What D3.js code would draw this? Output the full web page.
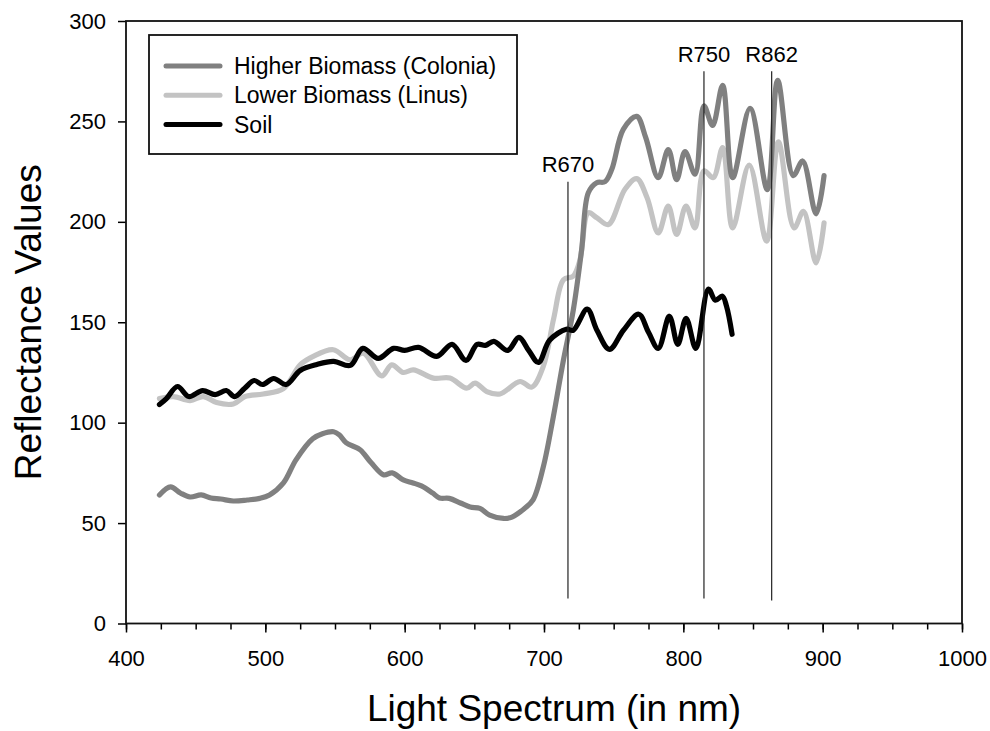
<!DOCTYPE html>
<html>
<head>
<meta charset="utf-8">
<script src="https://cdn.jsdelivr.net/npm/d3@7"></script>
<style>
  body { margin: 0; background: #fff; }
  svg text { font-family: "Liberation Sans", Arial, sans-serif; fill: #000; }
</style>
</head>
<body>
<div id="chart"></div>
<script>
// wavelength (nm) / reflectance pairs
var colonia = [
  [424, 64], [432, 68], [439, 65], [446, 63], [454, 64], [461, 62.5], [468, 62], [477, 61],
  [487, 61.5], [496, 62.3], [503, 64], [513, 70], [522, 81.5], [534, 92], [541, 94.5], [549, 95.5],
  [553, 94], [558, 90], [568, 86.5], [576, 80], [585, 74], [591, 75], [599, 71.5], [606, 70],
  [612, 68.5], [620, 65], [625, 62.5], [632, 62.3], [640, 60], [647, 58], [654, 57.3], [661, 54],
  [671, 52.3], [677, 53], [686, 57.3], [692, 61.4], [699.5, 78], [706.7, 103], [713.9, 131],
  [721, 156], [727, 186], [731.8, 214.5], [737.8, 219.5], [743.8, 220], [748.6, 226], [756.9, 246],
  [766.5, 252.5], [773, 242], [782, 222], [789.2, 236], [795.2, 221], [801.2, 235], [808.4, 223.7],
  [814.8, 257.8], [821, 248], [828.2, 268], [835.4, 222], [847.9, 256.5], [860.3, 216],
  [867.7, 270.5], [878.9, 223], [885.6, 230.3], [895.3, 204], [901, 223]
];

var linus = [
  [424, 112], [434, 113], [446, 111], [455.5, 113], [465, 110], [477, 109.3], [485.4, 113],
  [498.5, 114.3], [513, 117], [525, 128.8], [534.4, 133], [548.8, 136.3], [560.8, 131.3],
  [570.3, 134.6], [583.5, 123.3], [590.7, 128.8], [599, 125], [606.2, 126.3], [620.6, 122.2],
  [632.5, 122.2], [644.5, 117.2], [650.5, 119.7], [658.9, 115.5], [668.4, 114.3], [682.8, 120.5],
  [691.2, 117.7], [699.5, 128], [707, 152], [714, 171.2], [721, 173], [725.8, 181], [731.8, 204.5],
  [738, 202], [746.2, 198.7], [758.1, 216.2], [766.5, 221.5], [774, 212], [782, 194.5],
  [789.2, 207.8], [795.2, 193.7], [801.9, 207.8], [808.4, 197], [814.8, 225.4], [821.5, 222],
  [828.2, 237], [835.4, 197], [847.3, 228.2], [859.8, 190.4], [868.2, 239.8], [879.5, 197],
  [886.2, 205.2], [895.3, 179.6], [901, 199.5]
];

var soil = [
  [424, 109], [429, 112], [437, 118], [445, 113], [455, 116], [464, 114], [472, 116], [478, 113],
  [485, 117], [492, 121], [498, 119], [506, 122], [515, 119], [525, 126], [537, 129], [549, 130.5],
  [561, 128.5], [570, 137], [581, 132], [592, 137], [600, 136], [610, 137.5], [623, 133],
  [634, 139], [644, 131], [652, 139], [658, 138.5], [664, 140.5], [674, 136], [682, 142.5],
  [689, 136], [696, 130], [704, 141], [716, 146.5], [721, 146], [731, 156.5], [738, 146],
  [747, 136.5], [757, 146], [768, 154], [775, 145], [782, 137], [790, 153], [796, 139],
  [802, 152], [809, 137], [818, 166.5], [823, 161], [828, 163], [831, 158], [835, 144]
];

var seriesNames = ["Higher Biomass (Colonia)", "Lower Biomass (Linus)", "Soil"];
var seriesColors = ["#808080", "#c3c3c3", "#000000"];

// marker lines: label, position on x axis, value range
var markerLabels = ["R670", "R750", "R862"];
var markerX = [717.2, 814.8, 863.4];
var markerTop = [220, 275, 275];
var markerBottom = [12.5, 12.5, 11.5];

var xMajor = [400, 500, 600, 700, 800, 900, 1000];
var yTicks = [0, 50, 100, 150, 200, 250, 300];

var W = 990, H = 731;
var plotL = 126, plotR = 962, plotT = 21, plotB = 623.5;

var svg = d3.select("#chart").append("svg")
    .attr("width", W)
    .attr("height", H);

var x = d3.scaleLinear().domain([400, 1000]).range([plotL, plotR]);
var y = d3.scaleLinear().domain([0, 300]).range([plotB, plotT]);

// minor x ticks every 25 nm
svg.append("g")
    .attr("transform", `translate(0,${plotB})`)
    .call(d3.axisBottom(x).tickValues(d3.range(400, 1001, 25)).tickSize(6).tickFormat(""))
    .call(g => g.select(".domain").remove())
    .call(g => g.selectAll("line").attr("stroke", "#000").attr("stroke-width", 1.5));

// major x ticks + labels
svg.append("g")
    .attr("transform", `translate(0,${plotB})`)
    .call(d3.axisBottom(x).tickValues(xMajor).tickSize(9).tickPadding(18).tickFormat(d3.format("d")))
    .call(g => g.select(".domain").remove())
    .call(g => g.selectAll("line").attr("stroke", "#000").attr("stroke-width", 1.5))
    .call(g => g.selectAll("text").style("font-size", "22px").attr("fill", "#000"));

// y axis
svg.append("g")
    .attr("transform", `translate(${plotL},0)`)
    .call(d3.axisLeft(y).tickValues(yTicks).tickSize(8).tickPadding(12))
    .call(g => g.select(".domain").remove())
    .call(g => g.selectAll("line").attr("stroke", "#000").attr("stroke-width", 1.5))
    .call(g => g.selectAll("text").style("font-size", "22px").attr("fill", "#000"));

// plot frame
svg.append("rect")
    .attr("x", plotL)
    .attr("y", plotT)
    .attr("width", plotR - plotL)
    .attr("height", plotB - plotT)
    .attr("fill", "none")
    .attr("stroke", "#111")
    .attr("stroke-width", 1.8);

var line = d3.line()
    .x(d => x(d[0]))
    .y(d => y(d[1]))
    .curve(d3.curveCatmullRom.alpha(0.5));

// draw light first, then dark, soil on top
var drawOrder = [[linus, 1], [colonia, 0], [soil, 2]];
drawOrder.forEach(function(s) {
    svg.append("path")
        .datum(s[0])
        .attr("fill", "none")
        .attr("stroke", seriesColors[s[1]])
        .attr("stroke-width", 5.2)
        .attr("stroke-linejoin", "round")
        .attr("stroke-linecap", "round")
        .attr("d", line);
});

// marker lines and labels
markerLabels.forEach(function(lab, i) {
    svg.append("line")
        .attr("x1", x(markerX[i]))
        .attr("x2", x(markerX[i]))
        .attr("y1", y(markerBottom[i]))
        .attr("y2", y(markerTop[i]))
        .attr("stroke", "#222")
        .attr("stroke-width", 1.2);
    svg.append("text")
        .attr("x", x(markerX[i]))
        .attr("y", y(markerTop[i]) - 9.5)
        .attr("text-anchor", "middle")
        .style("font-size", "22px")
        .text(lab);
});

// legend
var legend = svg.append("g").attr("id", "legend");

legend.append("rect")
    .attr("x", 149)
    .attr("y", 35)
    .attr("width", 368)
    .attr("height", 119)
    .attr("fill", "#fff")
    .attr("stroke", "#111")
    .attr("stroke-width", 1.8);

var rows = legend.selectAll(".legend-row")
    .data(seriesNames)
    .enter()
    .append("g")
    .attr("class", "legend-row")
    .attr("transform", (d, i) => `translate(0, ${66 + i * 29.3})`);

rows.append("line")
    .attr("x1", 166)
    .attr("x2", 220)
    .attr("stroke", (d, i) => seriesColors[i])
    .attr("stroke-width", 5)
    .attr("stroke-linecap", "round");

rows.append("text")
    .attr("x", 234)
    .attr("y", 8)
    .style("font-size", "23px")
    .text(d => d);

// axis titles
svg.append("text")
    .attr("x", 554)
    .attr("y", 721)
    .attr("text-anchor", "middle")
    .style("font-size", "37px")
    .text("Light Spectrum (in nm)");

svg.append("text")
    .attr("transform", `translate(41, ${(plotT + plotB) / 2}) rotate(-90)`)
    .attr("text-anchor", "middle")
    .style("font-size", "37px")
    .text("Reflectance Values");
</script>
</body>
</html>
